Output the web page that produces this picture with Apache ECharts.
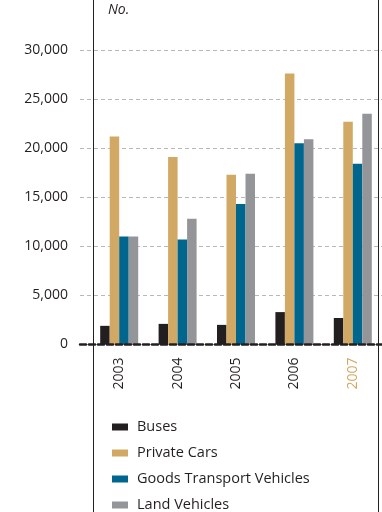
<!DOCTYPE html>
<html><head><meta charset="utf-8">
<script src="https://cdn.jsdelivr.net/npm/echarts@6/dist/echarts.min.js"></script>
<style>html,body{margin:0;padding:0;background:#fff}#c{width:382px;height:512px}</style>
</head><body><div id="c"></div>
<script>
const years = ['2003','2004','2005','2006','2007'];
const buses = [1900, 2100, 2000, 3300, 2700];
const privateCars = [21200, 19100, 17300, 27600, 22700];
const goodsVehicles = [11000, 10700, 14300, 20500, 18400];
const landVehicles = [11000, 12800, 17400, 20900, 23500];
const yTicks = [0, 5000, 10000, 15000, 20000, 25000, 30000];

const FONT = '"Open Sans", "Noto Sans", sans-serif';
const chart = echarts.init(document.getElementById('c'));
const TOP = 50, BOTTOM = 167.5;
function mk(name, data, color) {
  return {name, type: 'bar', data, xAxisIndex: 1, yAxisIndex: 1, barWidth: 9.5, barGap: '0%',
    itemStyle: {color}, emphasis: {disabled: true}};
}
chart.setOption({
  animation: false,
  textStyle: {fontFamily: FONT},
  grid: [
    {left: 80, right: 0, top: TOP, bottom: BOTTOM},
    {left: 90, right: 0, top: TOP, bottom: BOTTOM}
  ],
  xAxis: [
    {gridIndex: 0, type: 'category', data: [''], axisTick: {show: false}, axisLabel: {show: false},
     axisLine: {show: true, lineStyle: {color: '#231f20', width: 2.5, type: [6, 3]}}, z: 5},
    {gridIndex: 1, type: 'category', data: years, axisTick: {show: false}, axisLine: {show: false},
     axisLabel: {rotate: 90, margin: 13, fontSize: 14, fontFamily: FONT,
       color: (v) => v === '2007' ? '#d0a862' : '#231f20'}}
  ],
  yAxis: [
    {gridIndex: 0, type: 'value', min: 0, max: 30000, interval: 5000,
     axisLine: {show: false}, axisTick: {show: false},
     axisLabel: {margin: 12, fontSize: 14, fontFamily: FONT, color: '#231f20',
       formatter: (v) => yTicks.includes(v) ? v.toLocaleString('en-US') : ''},
     splitLine: {show: true, lineStyle: {color: '#b8b8b8', type: [4, 3], width: 1.2}}},
    {gridIndex: 1, type: 'value', min: 0, max: 30000, interval: 5000, show: false, splitLine: {show: false}}
  ],
  legend: {
    orient: 'vertical', left: 112, top: 419, height: 140, padding: 0, icon: 'rect', itemWidth: 16, itemHeight: 7, itemGap: 10,
    textStyle: {fontSize: 14.5, fontFamily: FONT, color: '#231f20', lineHeight: 16, padding: [0,0,0,4]},
    selectedMode: false
  },
  series: [
    mk('Buses', buses, '#231f20'),
    mk('Private Cars', privateCars, '#d1a964'),
    mk('Goods Transport Vehicles', goodsVehicles, '#00668e'),
    mk('Land Vehicles', landVehicles, '#939598')
  ],
  graphic: [
    {type: 'line', shape: {x1: 93.5, y1: 0, x2: 93.5, y2: 512}, style: {stroke: '#231f20', lineWidth: 1}, z: 10},
    {type: 'line', shape: {x1: 378.5, y1: 0, x2: 378.5, y2: 512}, style: {stroke: '#231f20', lineWidth: 1}, z: 10},
    {type: 'text', left: 108, top: 3, style: {text: 'No.', font: 'italic 14px ' + FONT, fill: '#231f20'}}
  ]
});
</script></body></html>
